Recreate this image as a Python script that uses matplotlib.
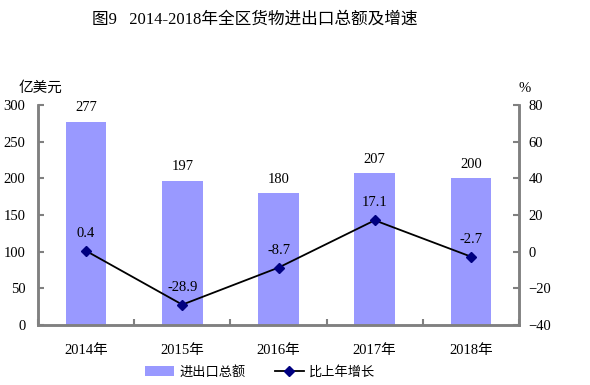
import matplotlib
matplotlib.use("Agg")
import matplotlib.pyplot as plt
import numpy as np

years = ["2014年", "2015年", "2016年", "2017年", "2018年"]
totals = [277, 197, 180, 207, 200]
growth = [0.4, -28.9, -8.7, 17.1, -2.7]
left_ticks = [0, 50, 100, 150, 200, 250, 300]
right_ticks = [-40, -20, 0, 20, 40, 60, 80]

SERIF = ["Liberation Serif", "Noto Sans CJK SC"]
CJK = ["Noto Sans CJK SC", "DejaVu Sans"]
plt.rcParams['font.family'] = SERIF

fig = plt.figure(figsize=(5.9, 3.85), dpi=100)
ax = fig.add_axes([38/590, 1-325/385, (519-38)/590, 220/385])
ax2 = ax.twinx()
gray = "#808080"
x = np.arange(len(years))
fs = 10.5

ax.bar(x, totals, width=0.42, color="#9999FF", zorder=2, label="进出口总额")
for xi, v in zip(x, totals):
    ax.text(xi, v + 19, f"{v}", ha="center", va="center", fontsize=fs)
ax.set_ylim(0, 300)
ax.set_xlim(-0.5, 4.5)
ax.set_yticks(left_ticks)
ax.set_xticks(np.arange(-0.5, 5, 1), minor=False)
ax.set_xticklabels([])
ax.set_xticks(x, minor=True)
ax.set_xticklabels(years, minor=True, fontsize=fs)
ax.tick_params(axis="x", which="minor", length=0, pad=14)
ax.tick_params(axis="x", which="major", direction="in", length=4, color=gray, width=1.5)
ax.tick_params(axis="y", direction="in", length=4, color=gray, width=1.5, labelsize=fs, pad=9)
for lbl in ax.get_xticklabels(minor=True):
    lbl.set_fontfamily(["Liberation Serif", "Noto Sans CJK SC"])

ax2.plot(x, growth, color="black", lw=1.3, marker="D", markersize=5.5,
         markerfacecolor="#000080", markeredgecolor="#000080", zorder=3, label="比上年增长")
ax2.set_ylim(-40, 80)
ax2.set_yticks(right_ticks)
ax2.tick_params(axis="y", direction="in", length=4, color=gray, width=1.5, labelsize=fs, pad=7)
for xi, v in zip(x, growth):
    ax2.text(xi, v + 9.5, f"{v}", ha="center", va="center", fontsize=fs)

for a in (ax, ax2):
    a.spines["top"].set_visible(False)
    for s in ("left", "right", "bottom"):
        a.spines[s].set_color(gray)
        a.spines[s].set_linewidth(1.8)

fig.text(255/590, 1-20/385, "图9   2014-2018年全区货物进出口总额及增速", ha="center", va="center",
         fontsize=12, family=["Liberation Serif", "Noto Sans CJK SC"])
fig.text(40/590, 1-88/385, "亿美元", ha="center", va="center", fontsize=fs, family=CJK)
fig.text(525/590, 1-88/385, "%", ha="center", va="center", fontsize=fs, family=SERIF)

h1, l1 = ax.get_legend_handles_labels()
h2, l2 = ax2.get_legend_handles_labels()
leg = fig.legend(h1 + h2, l1 + l2, loc="center", bbox_to_anchor=(260/590, 1-372/385), ncol=2,
                 frameon=False, prop={"family": CJK, "size": 9.5}, columnspacing=2.2,
                 handlelength=2.2, handletextpad=0.4)

fig.savefig("out.png", dpi=100)
